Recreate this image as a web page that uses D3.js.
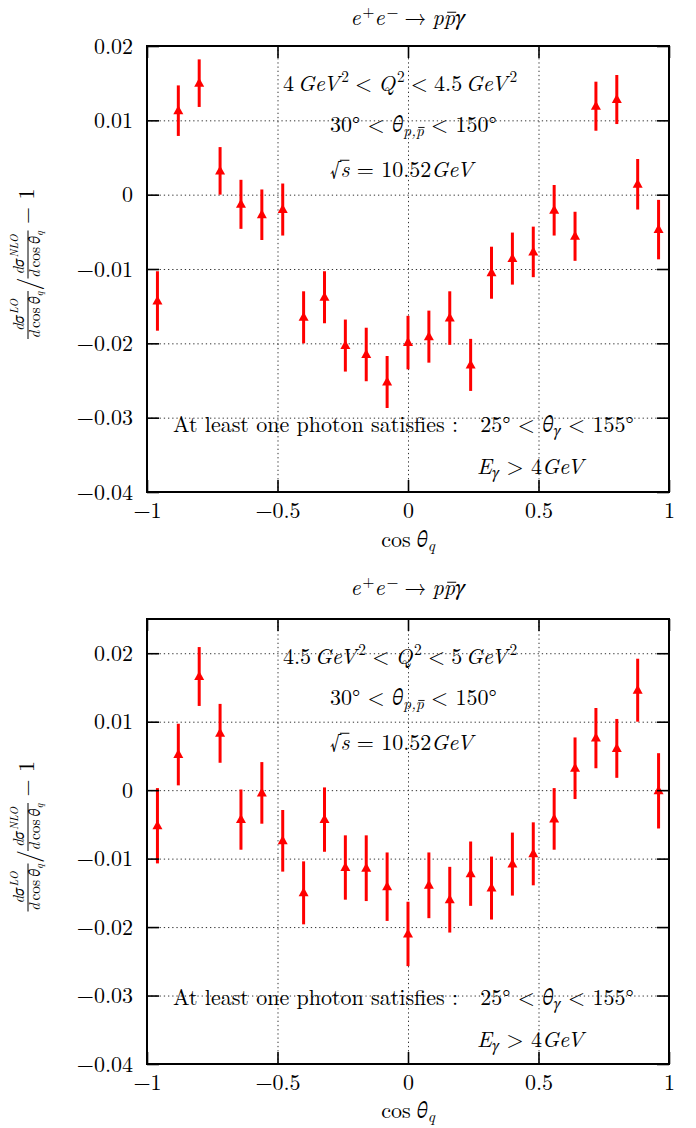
<!DOCTYPE html>
<html lang="en">
<head>
<meta charset="utf-8">
<title>e+e- → p pbar gamma, LO/NLO</title>
<script src="https://d3js.org/d3.v7.min.js"></script>
<style>
  body { margin: 0; background: #fff; }
</style>
</head>
<body>
<svg width="696" height="1128"></svg>
<script>
// bin centres in cos(theta_q)
var cosTheta = [-0.96, -0.88, -0.80, -0.72, -0.64, -0.56, -0.48, -0.40, -0.32, -0.24, -0.16, -0.08,
                0.00, 0.08, 0.16, 0.24, 0.32, 0.40, 0.48, 0.56, 0.64, 0.72, 0.80, 0.88, 0.96];

// 4 GeV^2 < Q^2 < 4.5 GeV^2
var ratioLowQ = [-0.0143, 0.0113, 0.0150, 0.0032, -0.0013, -0.0027, -0.0020, -0.0165, -0.0138, -0.0203, -0.0215, -0.0252,
                 -0.0199, -0.0191, -0.0166, -0.0229, -0.0105, -0.0086, -0.0077, -0.0021, -0.0056, 0.0119, 0.0128, 0.0014, -0.0047];
var errLowQ = [0.0040, 0.0034, 0.0032, 0.0032, 0.0033, 0.0034, 0.0035, 0.0035, 0.0035, 0.0035, 0.0036, 0.0035,
               0.0036, 0.0035, 0.0036, 0.0035, 0.0035, 0.0035, 0.0034, 0.0034, 0.0033, 0.0033, 0.0033, 0.0034, 0.0040];

// 4.5 GeV^2 < Q^2 < 5 GeV^2
var ratioHighQ = [-0.0052, 0.0052, 0.0166, 0.0083, -0.0043, -0.0004, -0.0074, -0.0150, -0.0043, -0.0113, -0.0114, -0.0141,
                  -0.0210, -0.0139, -0.0160, -0.0122, -0.0143, -0.0108, -0.0093, -0.0042, 0.0032, 0.0076, 0.0061, 0.0146, -0.0001];
var errHighQ = [0.0055, 0.0045, 0.0043, 0.0043, 0.0044, 0.0045, 0.0045, 0.0046, 0.0047, 0.0047, 0.0048, 0.0050,
                0.0047, 0.0048, 0.0048, 0.0047, 0.0046, 0.0046, 0.0046, 0.0045, 0.0045, 0.0044, 0.0043, 0.0046, 0.0055];

var xTickValues = [-1, -0.5, 0, 0.5, 1];
var yTickValues = [-0.04, -0.03, -0.02, -0.01, 0, 0.01, 0.02];
var yDomainLowQ = [-0.04, 0.02];
var yDomainHighQ = [-0.04, 0.025];

var FONT = "'Latin Modern Roman', 'STIX Two Text', 'Liberation Serif', serif";
var svg = d3.select("svg");
var left = 147, right = 669;
var red = "#ff0000";

// text with italic / sup / sub pieces; dx in em, bars drawn over marked pieces
function mathText(parent, x, y, size, anchor, segs) {
    var t = parent.append("text")
        .attr("x", x).attr("y", y)
        .attr("font-size", size)
        .attr("text-anchor", anchor)
        .style("font-family", FONT)
        .style("white-space", "pre")
        .attr("fill", "#000");
    var cur = 0, idx = 0, marks = [], prevIt = false;
    segs.forEach(function (s) {
        var lift = s.sup ? -(s.lift || 0.41) * size : (s.sub ? 0.2 * size : 0);
        var fs = (s.sup || s.sub) ? size * 0.7 : size;
        var sp = t.append("tspan").attr("dy", lift - cur).text(s.t);
        var dx = (s.dx || 0) + (s.sup && prevIt ? 0.08 : 0);
        if (dx) sp.attr("dx", dx * size);
        cur = lift;
        if (s.sup || s.sub) sp.attr("font-size", fs);
        if (s.it) sp.attr("font-style", "italic");
        if (s.bar) marks.push({ i0: idx, i1: idx + s.t.length - 1, base: y + lift, fs: fs, kind: s.bar });
        idx += s.t.length;
        prevIt = !!s.it;
    });
    var node = t.node();
    marks.forEach(function (m) {
        var x0 = node.getStartPositionOfChar(m.i0).x;
        var x1 = node.getEndPositionOfChar(m.i1).x;
        var yy = m.base - (m.kind === "root" ? 0.76 : 0.58) * m.fs;
        if (m.kind === "root") x0 -= 0.5;
        else { x0 += 0.15 * m.fs; x1 += 0.05 * m.fs; }
        parent.append("line")
            .attr("x1", x0).attr("x2", x1).attr("y1", yy).attr("y2", yy)
            .attr("stroke", "#000").attr("stroke-width", Math.max(0.9, m.fs * 0.045));
    });
    return t;
}

var titleSegs = [{t: "e", it: 1}, {t: "+", sup: 1, lift: 0.36}, {t: "e", it: 1}, {t: "−", sup: 1, lift: 0.36},
                 {t: "→", dx: 0.278}, {t: "p", it: 1, dx: 0.278}, {t: "p", it: 1, bar: "bar"}, {t: "γ", it: 1}];
var xLabelSegs = [{t: "cos"}, {t: "θ", it: 1, dx: 0.26}, {t: "q", it: 1, sub: 1}];
var thetaSegs = [{t: "30° < "}, {t: "θ", it: 1}, {t: "p,", it: 1, sub: 1}, {t: "p", it: 1, sub: 1, bar: "bar"}, {t: " < 150°"}];
var rootSegs = [{t: "√"}, {t: "s", it: 1, bar: "root"}, {t: " = 10.52"}, {t: "GeV", it: 1}];
var photonSegs = [{t: "At least one photon satisfies :   25° < "}, {t: "θ", it: 1}, {t: "γ", it: 1, sub: 1}, {t: " < 155°"}];
var energySegs = [{t: "E", it: 1}, {t: "γ", it: 1, sub: 1}, {t: " > 4"}, {t: "GeV", it: 1}];

function qRange(lo, hi) {
    return [{t: lo}, {t: "GeV", it: 1, dx: 0.167}, {t: "2", sup: 1}, {t: "<", dx: 0.278},
            {t: "Q", it: 1, dx: 0.278}, {t: "2", sup: 1}, {t: "<", dx: 0.278},
            {t: hi, dx: 0.278}, {t: "GeV", it: 1, dx: 0.167}, {t: "2", sup: 1}];
}

var panels = [
    { top: 46, bottom: 492, titleY: 25, xLabelY: 547, yDomain: yDomainLowQ, ratio: ratioLowQ, err: errLowQ,
      qSegs: qRange("4", "4.5") },
    { top: 619, bottom: 1064, titleY: 595, xLabelY: 1118, yDomain: yDomainHighQ, ratio: ratioHighQ, err: errHighQ,
      qSegs: qRange("4.5", "5") }
];

function fmt(d) {
    if (d === 0) return "0";
    return (d < 0 ? "−" : "") + d3.format("")(Math.abs(d));
}

panels.forEach(function (p) {
    var x = d3.scaleLinear().domain([-1, 1]).range([left, right]);
    var y = d3.scaleLinear().domain(p.yDomain).range([p.bottom, p.top]);
    var g = svg.append("g");

    // dotted grid
    var gx = g.append("g").attr("transform", "translate(0," + p.bottom + ")")
        .call(d3.axisBottom(x).tickValues([-0.5, 0, 0.5]).tickSize(-(p.bottom - p.top)).tickFormat(""));
    var gy = g.append("g").attr("transform", "translate(" + left + ",0)")
        .call(d3.axisLeft(y).tickValues(yTickValues.filter(function (v) { return y(v) > p.top + 1; }))
            .tickSize(-(right - left)).tickFormat(""));
    [gx, gy].forEach(function (a) {
        a.select(".domain").remove();
        a.selectAll("line").attr("stroke", "#333").attr("stroke-width", 1).attr("stroke-dasharray", "1.3,2.9");
    });

    // annotations
    mathText(g, 283, p.top + 45, 22, "start", p.qSegs);
    mathText(g, 330, p.top + 86, 22, "start", thetaSegs);
    mathText(g, 330, p.top + 131, 22, "start", rootSegs);
    mathText(g, 173, p.top + 386, 22, "start", photonSegs);
    mathText(g, 477, p.top + 428, 22, "start", energySegs);

    // error bars and triangles
    var pts = g.append("g").selectAll("g").data(cosTheta).enter().append("g")
        .attr("transform", function (d) { return "translate(" + x(d) + ",0)"; });
    pts.append("line")
        .attr("y1", function (d, i) { return y(p.ratio[i] - p.err[i]); })
        .attr("y2", function (d, i) { return y(p.ratio[i] + p.err[i]); })
        .attr("stroke", red).attr("stroke-width", 3);
    pts.append("path")
        .attr("d", function (d, i) {
            var cy = y(p.ratio[i]);
            return "M0," + (cy - 5.5) + "L5," + (cy + 3.5) + "L-5," + (cy + 3.5) + "Z";
        })
        .attr("fill", red);

    // axes with inward ticks
    var axL = g.append("g").attr("transform", "translate(" + left + ",0)")
        .call(d3.axisLeft(y).tickValues(yTickValues).tickSizeInner(-12).tickSizeOuter(0).tickPadding(14).tickFormat(fmt));
    var axR = g.append("g").attr("transform", "translate(" + right + ",0)")
        .call(d3.axisRight(y).tickValues(yTickValues).tickSizeInner(-12).tickSizeOuter(0).tickFormat(""));
    var axB = g.append("g").attr("transform", "translate(0," + p.bottom + ")")
        .call(d3.axisBottom(x).tickValues(xTickValues).tickSizeInner(-12).tickSizeOuter(0).tickFormat(fmt));
    var axT = g.append("g").attr("transform", "translate(0," + p.top + ")")
        .call(d3.axisTop(x).tickValues(xTickValues).tickSizeInner(-12).tickSizeOuter(0).tickFormat(""));
    [axL, axR, axB, axT].forEach(function (a) {
        a.attr("font-family", null).attr("font-size", null);
        a.select(".domain").remove();
        a.selectAll("line").attr("stroke", "#000").attr("stroke-width", 1.6);
        a.selectAll("text").attr("font-size", 22).attr("fill", "#000").style("font-family", FONT);
    });
    axB.selectAll("text").attr("y", 26).attr("dy", null);
    axL.selectAll("text").attr("dy", "0.33em");

    g.append("rect")
        .attr("x", left).attr("y", p.top)
        .attr("width", right - left).attr("height", p.bottom - p.top)
        .attr("fill", "none").attr("stroke", "#000").attr("stroke-width", 2);

    // titles
    mathText(g, 408, p.titleY, 22, "middle", titleSegs);
    mathText(g, 408, p.xLabelY, 22, "middle", xLabelSegs);

    // y label: (dσ^LO/dcosθ) / (dσ^NLO/dcosθ) − 1
    var yl = g.append("g")
        .attr("transform", "translate(28," + ((p.top + p.bottom) / 2 - 5) + ") rotate(-90)");
    [{cx: -51, sup: "LO"}, {cx: 9.5, sup: "NLO"}].forEach(function (f) {
        mathText(yl, f.cx, -4, 15.4, "middle", [{t: "dσ", it: 1}, {t: f.sup, it: 1, sup: 1}]);
        mathText(yl, f.cx, 12, 15.4, "middle",
            [{t: "d", it: 1}, {t: "cos", dx: 0.167}, {t: "θ", it: 1, dx: 0.2}, {t: "q", it: 1, sub: 1}]);
        yl.append("line").attr("x1", f.cx - 24).attr("x2", f.cx + 24).attr("y1", 0).attr("y2", 0)
            .attr("stroke", "#000").attr("stroke-width", 1);
    });
    yl.append("text").attr("x", -20).attr("y", 9).attr("font-size", 26).attr("text-anchor", "middle")
        .style("font-family", FONT).text("/");
    yl.append("text").attr("x", 40).attr("y", 6).attr("font-size", 22)
        .style("font-family", FONT).style("white-space", "pre").text("− 1");
});
</script>
</body>
</html>
